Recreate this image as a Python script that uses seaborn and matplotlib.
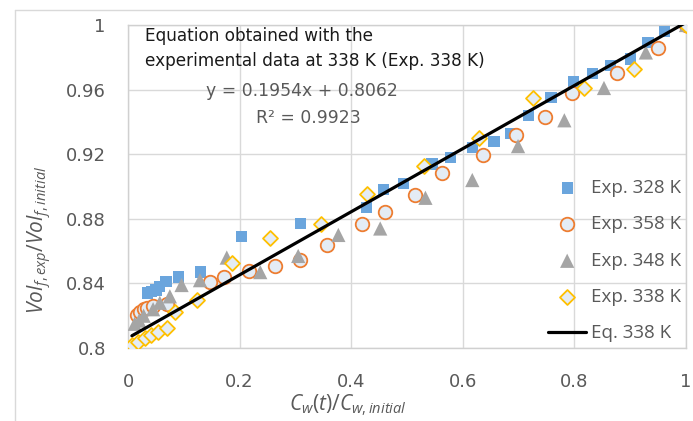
import numpy as np
import pandas as pd
import matplotlib
matplotlib.use("Agg")
import matplotlib.pyplot as plt
import seaborn as sns
from matplotlib.lines import Line2D

# ---- data ----
x_328 = [0.035, 0.042, 0.050, 0.057, 0.068, 0.090, 0.130, 0.203, 0.309, 0.428, 0.458, 0.494,
         0.545, 0.578, 0.617, 0.656, 0.686, 0.718, 0.758, 0.799, 0.833, 0.865, 0.901, 0.932,
         0.961, 1.0]
y_328 = [0.834, 0.835, 0.836, 0.838, 0.841, 0.844, 0.847, 0.869, 0.877, 0.887, 0.898, 0.902,
         0.914, 0.918, 0.924, 0.928, 0.933, 0.944, 0.955, 0.965, 0.970, 0.975, 0.979, 0.989,
         0.996, 1.0]

x_358 = [0.016, 0.022, 0.028, 0.034, 0.045, 0.070, 0.147, 0.172, 0.217, 0.264, 0.309, 0.357,
         0.419, 0.461, 0.515, 0.563, 0.637, 0.695, 0.747, 0.796, 0.877, 0.949, 1.0]
y_358 = [0.8205, 0.822, 0.824, 0.825, 0.826, 0.827, 0.841, 0.844, 0.8475, 0.8505, 0.8545, 0.864,
         0.877, 0.8845, 0.895, 0.9085, 0.9195, 0.932, 0.943, 0.958, 0.970, 0.9855, 1.0]

x_348 = [0.012, 0.020, 0.028, 0.045, 0.057, 0.075, 0.096, 0.129, 0.177, 0.237, 0.305, 0.377,
         0.452, 0.533, 0.617, 0.699, 0.782, 0.853, 0.928, 1.0]
y_348 = [0.815, 0.817, 0.820, 0.824, 0.828, 0.832, 0.839, 0.842, 0.856, 0.847, 0.857, 0.870,
         0.874, 0.893, 0.904, 0.925, 0.941, 0.961, 0.983, 1.0]

x_338 = [0.007, 0.018, 0.030, 0.042, 0.054, 0.069, 0.085, 0.123, 0.186, 0.255, 0.345, 0.428,
         0.530, 0.629, 0.725, 0.817, 0.907, 1.0]
y_338 = [0.802, 0.804, 0.806, 0.808, 0.810, 0.8125, 0.822, 0.830, 0.8525, 0.868, 0.877, 0.8955,
         0.913, 0.930, 0.955, 0.961, 0.973, 1.0]

slope_338 = 0.1954
intercept_338 = 0.8062
r2_338 = 0.9923

series_labels = ["Exp. 328 K", "Exp. 358 K", "Exp. 348 K", "Exp. 338 K"]
line_label = "Eq. 338 K"

x_ticks = [0, 0.2, 0.4, 0.6, 0.8, 1]
x_tick_labels = ["0", "0.2", "0.4", "0.6", "0.8", "1"]
y_ticks = [0.8, 0.84, 0.88, 0.92, 0.96, 1]
y_tick_labels = ["0.8", "0.84", "0.88", "0.92", "0.96", "1"]

annotation_text = "Equation obtained with the\nexperimental data at 338 K (Exp. 338 K)"
x_label = r"$C_w(t)/C_{w,initial}$"
y_label = r"$Vol_{f,exp}/Vol_{f,initial}$"

# ---- style ----
sns.set_theme(style="white")
plt.rcParams["font.family"] = ["DejaVu Sans"]
plt.rcParams["mathtext.fontset"] = "custom"
plt.rcParams["mathtext.rm"] = "Open Sans"
plt.rcParams["mathtext.it"] = "Open Sans:italic"

GRAY_TXT = "#595959"
GRID = "#D9D9D9"

W, H = 693, 421
fig = plt.figure(figsize=(W / 100, H / 100), dpi=100)
ax = fig.add_axes([128 / W, 1 - 348 / H, 558 / W, 323 / H])

sns.scatterplot(x=x_328, y=y_328, marker="s", s=66, color="#6AA5DD", edgecolor="none",
                linewidth=0, label=series_labels[0], ax=ax, zorder=3)
sns.scatterplot(x=x_358, y=y_358, marker="o", s=95, color="#E4ECF5", edgecolor="#ED7D31",
                linewidth=1.3, label=series_labels[1], ax=ax, zorder=3)
sns.scatterplot(x=x_348, y=y_348, marker="^", s=105, color="#A5A5A5", edgecolor="none",
                linewidth=0, label=series_labels[2], ax=ax, zorder=3)
sns.scatterplot(x=x_338, y=y_338, marker="D", s=58, color="#E4ECF5", edgecolor="#FFC000",
                linewidth=1.3, label=series_labels[3], ax=ax, zorder=3)

x_fit = np.array([min(x_338), max(x_338)])
sns.lineplot(x=x_fit, y=slope_338 * x_fit + intercept_338, color="black", linewidth=2.3,
             label=line_label, ax=ax, zorder=4)

ax.set_xlim(0, 1)
ax.set_ylim(0.8, 1.0)
ax.set_xticks(x_ticks)
ax.set_xticklabels(x_tick_labels)
ax.set_yticks(y_ticks)
ax.set_yticklabels(y_tick_labels)
ax.tick_params(axis="both", length=0, labelsize=13, labelcolor=GRAY_TXT)
ax.tick_params(axis="x", pad=18)
ax.tick_params(axis="y", pad=16)
ax.grid(True, color=GRID, linewidth=1.0)
ax.set_axisbelow(True)
for sp in ax.spines.values():
    sp.set_color("#D0D0D0")
    sp.set_linewidth(1.0)

ax.set_xlabel(x_label, fontsize=15, color=GRAY_TXT)
ax.xaxis.set_label_coords(0.394, -0.137)
ax.set_ylabel(y_label, fontsize=15, color=GRAY_TXT)
ax.yaxis.set_label_coords(-0.133, 0.335)

ax.text(0.0305, 0.993, annotation_text, transform=ax.transAxes, ha="left", va="top",
        fontsize=12.2, color="#1A1A1A", linespacing=1.5)
ax.text(0.312, 0.797, f"y = {slope_338:.4f}x + {intercept_338:.4f}", transform=ax.transAxes,
        ha="center", va="center", fontsize=12.4, color=GRAY_TXT)
ax.text(0.324, 0.713, f"R² = {r2_338:.4f}", transform=ax.transAxes,
        ha="center", va="center", fontsize=12.4, color=GRAY_TXT)

leg = ax.legend(loc="lower left", bbox_to_anchor=(0.74, -0.006), frameon=False,
                prop={"family": "Open Sans", "size": 13.5}, labelspacing=0.98,
                handletextpad=0.25, handlelength=2.0, labelcolor=GRAY_TXT, borderaxespad=0)

# faint outer chart-area border (left and top)
fig.add_artist(Line2D([15 / W, 15 / W], [0, 1 - 10 / H], transform=fig.transFigure,
                      color="#D9D9D9", linewidth=1.0))
fig.add_artist(Line2D([15 / W, 1], [1 - 10 / H, 1 - 10 / H], transform=fig.transFigure,
                      color="#D9D9D9", linewidth=1.0))

fig.savefig("out.png", dpi=100, facecolor="white")
